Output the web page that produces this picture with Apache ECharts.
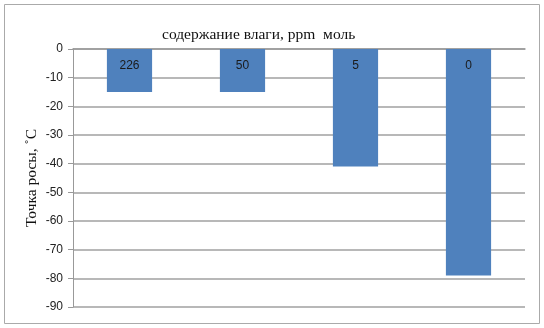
<!DOCTYPE html>
<html>
<head>
<meta charset="utf-8">
<script src="https://cdn.jsdelivr.net/npm/echarts@6/dist/echarts.min.js"></script>
<style>
  html, body { margin: 0; padding: 0; background: #fff; }
  #chart { width: 544px; height: 328px; }
</style>
</head>
<body>
<div id="chart"></div>
<script>
 // содержание влаги (ppm моль) -> точка росы
 var categories = ['226', '50', '5', '0'];
 var dewPoint = [-15, -15, -41, -79];
 var yTicks = { min: -90, max: 0, step: 10 };

 var myChart = echarts.init(document.getElementById('chart'));

 var option = {
     animation: false,
     title: {
         text: 'содержание влаги, ppm  моль',
         left: 157,
         top: 22,
         textStyle: {
             fontFamily: 'Liberation Serif',
             fontSize: 15.5,
             fontWeight: 'normal',
             color: '#111'
         }
     },
     graphic: [{
         type: 'rect',
         shape: { x: 4.5, y: 4.5, width: 535, height: 319 },
         style: { fill: 'none', stroke: '#aaa', lineWidth: 1 }
     }],
     grid: {
         left: 73,
         right: 19,
         top: 49,
         bottom: 21
     },
     xAxis: [{
         type: 'category',
         data: categories,
         position: 'top',
         axisLine: { show: true, onZero: false, lineStyle: { color: '#999', width: 1.5 } },
         axisTick: { show: false },
         axisLabel: { show: false },
         splitLine: { show: false }
     }],
     yAxis: [{
         type: 'value',
         min: yTicks.min,
         max: yTicks.max,
         interval: yTicks.step,
         name: 'Точка росы, ˚С',
         nameLocation: 'middle',
         nameGap: 33,
         nameRotate: 90,
         nameMoveOverlap: false,
         nameTextStyle: {
             fontFamily: 'Liberation Serif',
             fontSize: 15.5,
             color: '#111'
         },
         axisLine: { show: true, lineStyle: { color: '#999', width: 1 } },
         axisTick: { show: true, length: 5, lineStyle: { color: '#999' } },
         axisLabel: {
             fontFamily: 'Liberation Sans',
             fontSize: 12,
             color: '#222',
             margin: 10
         },
         splitLine: { lineStyle: { color: '#a0a0a0', width: 1.5 } }
     }],
     series: [
         {
             name: 'Точка росы',
             type: 'bar',
             barWidth: '40%',
             data: dewPoint,
             itemStyle: { color: '#4f81bd' },
             label: {
                 show: true,
                 position: 'insideTop',
                 distance: 11,
                 formatter: '{b}',
                 fontFamily: 'Liberation Sans',
                 fontSize: 12,
                 color: '#1a1a1a'
             }
         }
     ]
 };
 myChart.setOption(option);
</script>
</body>
</html>
